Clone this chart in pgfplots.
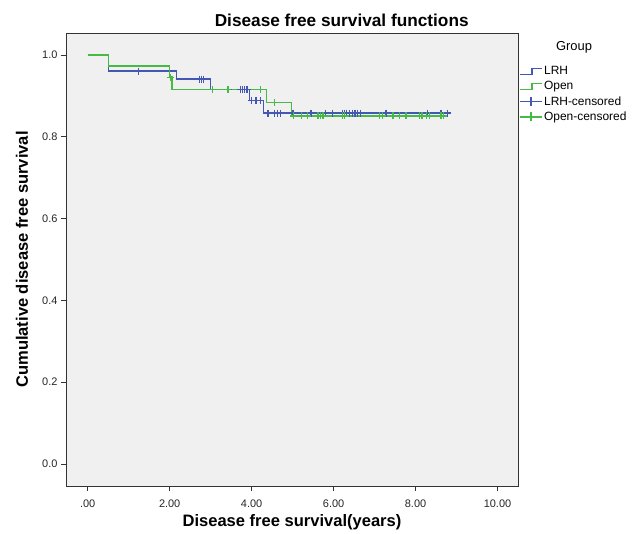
\documentclass[border=0pt]{standalone}
\usepackage{fontspec}
\setmainfont{Liberation Sans}
\usepackage{pgfplots}
\pgfplotsset{compat=1.18}
\definecolor{lrhblue}{RGB}{66,88,178}
\definecolor{opengreen}{RGB}{70,186,70}
\definecolor{bggray}{RGB}{240,240,240}
\begin{document}
\begin{tikzpicture}
\begin{axis}[
  scale only axis, width=452bp, height=453bp,
  xmin=-0.53, xmax=10.5, ymin=-0.054, ymax=1.054,
  clip=false,
  axis background/.style={fill=bggray},
  axis line style={black!80, line width=0.8bp},
  xtick={0,2,4,6,8,10}, xticklabels={.00,2.00,4.00,6.00,8.00,10.00},
  ytick={0,0.2,0.4,0.6,0.8,1.0}, yticklabels={0.0,0.2,0.4,0.6,0.8,1.0},
  tick align=outside, tick pos=left,
  major tick length=5bp,
  every tick/.style={black!80, line width=0.8bp},
  tick label style={font=\fontsize{11}{13}\selectfont, text=black!85},
  xticklabel style={yshift=-5bp},
  /pgf/number format/assume math mode=true,
  xlabel={Disease free survival(years)},
  ylabel={Cumulative disease free survival},
  label style={font=\bfseries\fontsize{16.6}{19}\selectfont},
  xlabel style={at={(axis description cs:0.5,-0.0795)}, anchor=center},
  ylabel style={at={(axis description cs:-0.0973,0.5)}, anchor=center},
  legend style={at={(rel axis cs:1.0,0.933)}, anchor=north west, draw=none, fill=none,
    font=\fontsize{12}{14}\selectfont, row sep=1.2bp, inner sep=1bp,
    nodes={inner xsep=1.5bp}},
  legend cell align=left,
]
\addplot[color=lrhblue, line width=1.4bp, const plot,
  legend image code/.code={\draw[color=lrhblue, line width=1.4bp] (0bp,-3bp)--(12bp,-3bp)--(12bp,3bp)--(22bp,3bp);}]
  coordinates {(0,1) (0.5,0.961) (2.16,0.941) (2.99,0.916) (3.95,0.889) (4.29,0.858) (8.87,0.858)};
\addlegendentry{LRH}
\addplot[color=opengreen, line width=1.4bp, const plot,
  legend image code/.code={\draw[color=opengreen, line width=1.4bp] (0bp,-3bp)--(12bp,-3bp)--(12bp,3bp)--(22bp,3bp);}]
  coordinates {(0,1) (0.5,0.973) (2.0,0.946) (2.06,0.916) (4.37,0.884) (4.97,0.851) (8.72,0.851)};
\addlegendentry{Open}
\addplot[color=lrhblue, only marks, mark=+, mark size=3.5bp, mark options={color=lrhblue, line width=1.3bp},
  legend image code/.code={\draw[color=lrhblue, line width=1.3bp] (0bp,0bp)--(22bp,0bp) (11bp,-4.5bp)--(11bp,4.5bp);}]
  table {
x y
1.24 0.961
2.73 0.941
2.78 0.941
2.83 0.941
3.44 0.916
3.72 0.916
3.77 0.916
3.83 0.916
3.89 0.916
3.99 0.889
4.11 0.889
4.22 0.889
4.40 0.858
4.56 0.858
4.63 0.858
4.70 0.858
5.01 0.858
5.45 0.858
5.80 0.858
5.97 0.858
6.21 0.858
6.27 0.858
6.32 0.858
6.39 0.858
6.46 0.858
6.52 0.858
6.59 0.858
6.65 0.858
7.28 0.858
8.30 0.858
8.62 0.858
8.78 0.858
};
\addlegendentry{LRH-censored}
\addplot[color=opengreen, only marks, mark=+, mark size=3.5bp, mark options={color=opengreen, line width=1.3bp},
  legend image code/.code={\draw[color=opengreen, line width=1.3bp] (0bp,0bp)--(22bp,0bp) (11bp,-4.5bp)--(11bp,4.5bp);}]
  table {
x y
2.02 0.946
3.04 0.916
3.42 0.916
4.21 0.916
4.56 0.884
5.03 0.851
5.21 0.851
5.37 0.851
5.62 0.851
5.68 0.851
5.74 0.851
6.21 0.851
6.27 0.851
7.12 0.851
7.19 0.851
7.45 0.851
7.61 0.851
7.77 0.851
8.10 0.851
8.16 0.851
8.26 0.851
8.34 0.851
8.62 0.851
8.69 0.851
};
\addlegendentry{Open-censored}
\node[font=\bfseries\fontsize{17.3}{20}\selectfont] at (rel axis cs:0.61,1.029) {Disease free survival functions};
\node[font=\fontsize{13}{15}\selectfont] at (rel axis cs:1.124,0.969) {Group};
\coordinate (sw) at (rel axis cs:0,0);
\end{axis}
\path (sw) ++(-66bp,-47bp) rectangle ++(639bp,533bp);
\end{tikzpicture}
\end{document}
